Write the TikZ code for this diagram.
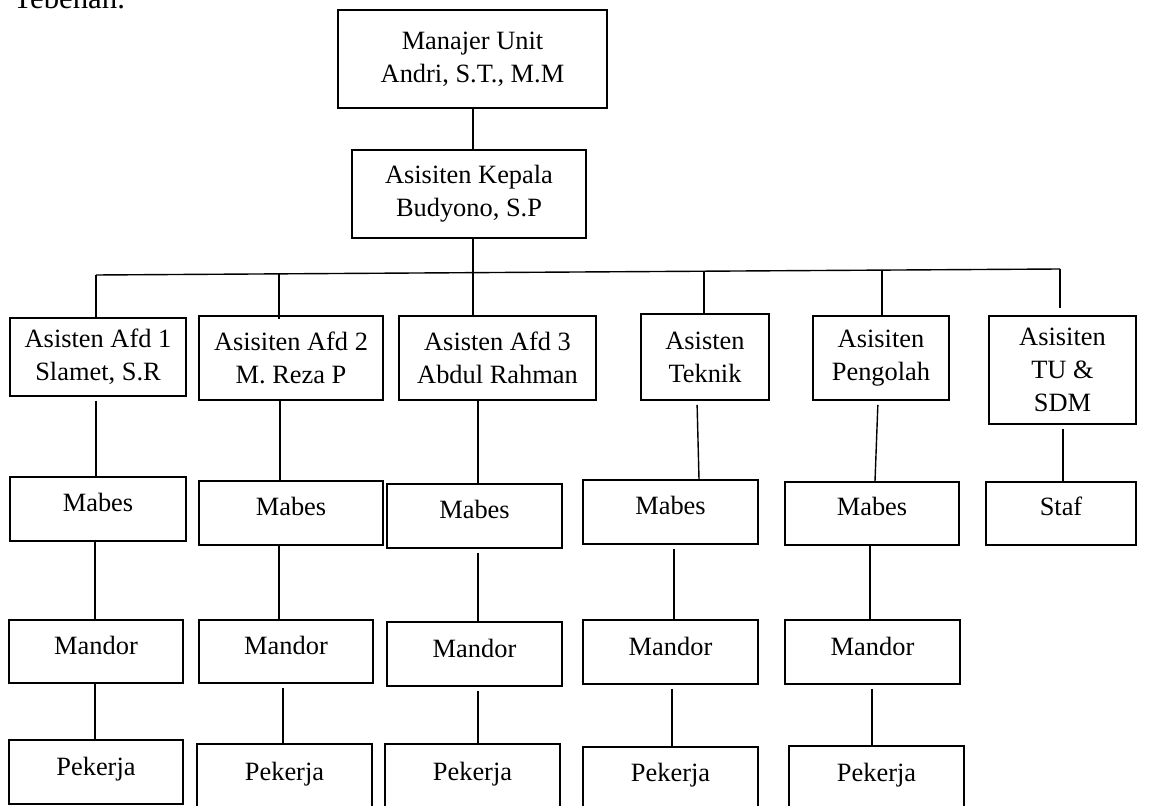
\documentclass[tikz,border=0pt]{standalone}
\usepackage{fontspec}
\setmainfont{Liberation Serif}
\begin{document}
\begin{tikzpicture}[x=0.5pt,y=-0.5pt,
  box/.style={draw, line width=0.8pt, inner sep=0pt, align=center, font=\fontsize{13.2}{16.5}\selectfont},
  lbl/.style={font=\fontsize{13.2}{16.5}\selectfont, inner sep=0pt},
  conn/.style={line width=1pt},
  gap/.style={shorten <=2pt}]
\clip (0,0) rectangle (1161,806);

% clipped heading text at top left (cut by the page edge, as in the reference)
\node[inner sep=0pt, anchor=base west, font=\fontsize{15.4}{18}\selectfont] (head) at (13,9) {Tebenan.};

% top level
\node[box, minimum width=134.5pt, minimum height=49pt] (m) at (472.5,59) {Manajer Unit\\Andri, S.T., M.M};
\node[box, minimum width=117pt, minimum height=44pt] (k) at (469,194) {Asisiten Kepala\\Budyono, S.P};

% assistants
\node[box, minimum width=88pt, minimum height=39pt] (a1) at (98,357) {Asisten Afd 1\\Slamet, S.R};
\node[box, minimum width=92pt, minimum height=42pt] (a2) at (291,358) {Asisiten Afd 2\\M. Reza P};
\node[box, minimum width=98.5pt, minimum height=42pt] (a3) at (497.5,358) {Asisten Afd 3\\Abdul Rahman};
\node[box, minimum width=64pt, minimum height=43pt] (a4) at (705,357) {Asisten\\Teknik};
\node[box, minimum width=68pt, minimum height=42pt] (a5) at (881,358) {Asisiten\\Pengolah};
\node[box, minimum width=73.5pt, minimum height=54pt] (a6) at (1062.5,370) {Asisiten\\TU \&\\SDM};

% Mabes row
\node[box, minimum width=88pt, minimum height=32pt, label={[lbl,yshift=3.5pt]center:Mabes}] (b1) at (98,509) {};
\node[box, minimum width=92pt, minimum height=32pt, label={[lbl,yshift=3.5pt]center:Mabes}] (b2) at (291,513) {};
\node[box, minimum width=87.5pt, minimum height=32pt, label={[lbl,yshift=3.5pt]center:Mabes}] (b3) at (474.5,516) {};
\node[box, minimum width=87.5pt, minimum height=32pt, label={[lbl,yshift=3.5pt]center:Mabes}] (b4) at (670.5,512) {};
\node[box, minimum width=87pt, minimum height=31.5pt, label={[lbl,yshift=3.5pt]center:Mabes}] (b5) at (872,513.5) {};
\node[box, minimum width=75pt, minimum height=31.5pt, label={[lbl,yshift=3.5pt]center:Staf}] (b6) at (1061,513.5) {};

% Mandor row
\node[box, minimum width=87pt, minimum height=31.5pt, label={[lbl,yshift=3pt]center:Mandor}] (c1) at (96,651.5) {};
\node[box, minimum width=87pt, minimum height=31.5pt, label={[lbl,yshift=3pt]center:Mandor}] (c2) at (286,651.5) {};
\node[box, minimum width=87.5pt, minimum height=32pt, label={[lbl,yshift=3pt]center:Mandor}] (c3) at (474.5,654) {};
\node[box, minimum width=87.5pt, minimum height=32pt, label={[lbl,yshift=3pt]center:Mandor}] (c4) at (670.5,652) {};
\node[box, minimum width=87.5pt, minimum height=32pt, label={[lbl,yshift=3pt]center:Mandor}] (c5) at (872.5,652) {};

% Pekerja row
\node[box, minimum width=87pt, minimum height=32pt, label={[lbl,yshift=1.5pt]center:Pekerja}] (e1) at (96,772) {};
\node[box, minimum width=87.5pt, minimum height=36pt, label={[lbl,yshift=3pt]center:Pekerja}] (e2) at (284.5,780) {};
\node[box, minimum width=87.5pt, minimum height=36pt, label={[lbl,yshift=3pt]center:Pekerja}] (e3) at (472.5,780) {};
\node[box, minimum width=87.5pt, minimum height=34.5pt, label={[lbl,yshift=3pt]center:Pekerja}] (e4) at (670.5,781.5) {};
\node[box, minimum width=87.5pt, minimum height=35pt, label={[lbl,yshift=3pt]center:Pekerja}] (e5) at (876.5,781) {};

% bus coordinates
\coordinate (d1) at (96,275);
\coordinate (d2) at (279,274);
\coordinate (d3) at (473,272);
\coordinate (d4) at (704,271);
\coordinate (d5) at (882,270);
\coordinate (d6) at (1060,269);

% connectors
\draw[conn] (m.south) -- (m.south |- k.north);
\draw[conn] ([xshift=2pt]k.south) -- (d3);
\draw[line width=0.7pt] (d1) -- (d6);
\draw[conn] (d1) -- (d1 |- a1.north);
\draw[conn] (d2) -- ([yshift=-2pt]d2 |- a2.north);
\draw[conn] (d3) -- (d3 |- a3.north);
\draw[conn] (d4) -- (d4 |- a4.north);
\draw[conn] (d5) -- (d5 |- a5.north);
\draw[conn, shorten >=3.5pt] (d6) -- (d6 |- a6.north);

\draw[conn,gap] ([xshift=-1pt]a1.south) -- ([xshift=-1pt]b1.north);
\draw[conn] ([xshift=-5.5pt]a2.south) -- ([xshift=-5.5pt]b2.north);
\draw[conn] ([xshift=-9.75pt]a3.south) -- ([xshift=1.75pt]b3.north);
\draw[line width=0.7pt,gap] ([xshift=-4pt]a4.south) -- ([xshift=14.25pt]b4.north);
\draw[line width=0.7pt,gap] ([xshift=-1.5pt]a5.south) -- ([xshift=1.5pt]b5.north);
\draw[conn,gap] ([xshift=0.25pt]a6.south) -- ([xshift=1pt]b6.north);

\draw[conn] ([xshift=-1.5pt]b1.south) -- ([xshift=-0.5pt]c1.north);
\draw[conn] ([xshift=-6pt]b2.south) -- ([xshift=-3.5pt]c2.north);
\draw[conn,gap] ([xshift=1.75pt]b3.south) -- ([xshift=1.75pt]c3.north);
\draw[conn,gap] ([xshift=1.75pt]b4.south) -- ([xshift=1.75pt]c4.north);
\draw[conn] ([xshift=-1pt]b5.south) -- ([xshift=-1.25pt]c5.north);

\draw[conn] ([xshift=-0.5pt]c1.south) -- ([xshift=-0.5pt]e1.north);
\draw[conn,gap] ([xshift=-1.5pt]c2.south) -- ([xshift=-0.75pt]e2.north);
\draw[conn,gap] ([xshift=1.75pt]c3.south) -- ([xshift=2.75pt]e3.north);
\draw[conn,gap] ([xshift=0.75pt]c4.south) -- ([xshift=0.75pt]e4.north);
\draw[conn,gap] ([xshift=-0.25pt]c5.south) -- ([xshift=-2.25pt]e5.north);
\end{tikzpicture}
\end{document}
